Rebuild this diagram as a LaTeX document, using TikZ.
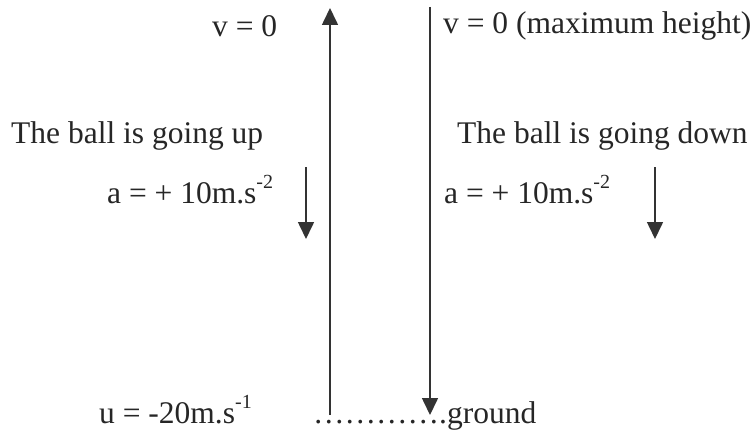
\documentclass[tikz,border=0pt]{standalone}
\usepackage{fontspec}
\setmainfont{Liberation Serif}
\usetikzlibrary{arrows.meta, positioning}
\newcommand{\unitexp}[1]{\raisebox{15pt}{\fontsize{20}{24}\selectfont #1}}

\begin{document}
\begin{tikzpicture}[
    x=1pt, y=1pt,
    label/.style={anchor=base west, inner sep=0pt, text=black!85, font=\fontsize{31.5}{36}\selectfont},
    motion/.style={-{Triangle[width=16pt, length=17pt]}, line width=1.6pt, draw=black!80}
]
    \useasboundingbox (0,0) rectangle (751,432);

    % Velocity lines
    \coordinate (upbot) at (330,17);
    \coordinate (uptop) at (330,424);
    \coordinate (downtop) at (430,425);
    \coordinate (downbot) at (430,17);
    \draw[motion] (upbot) -- (uptop);
    \draw[motion] (downtop) -- (downbot);

    % Acceleration arrows
    \coordinate (accltop) at (306,265);
    \coordinate (acclbot) at (306,193);
    \coordinate (accrtop) at (655,265);
    \coordinate (accrbot) at (655,193);
    \draw[motion] (accltop) -- (acclbot);
    \draw[motion] (accrtop) -- (accrbot);

    % Labels
    \node[label] (vtopl) at (212,395) {v = 0};
    \node[label] (vtopr) at (443,398) {v = 0 (maximum height)};
    \node[label] (goup) at (11,289) {The ball is going up};
    \node[label] (godown) at (457,289) {The ball is going down};
    \node[label] (accl) at (107,229) {a = + 10m.s\unitexp{-2}};
    \node[label] (accr) at (444,229) {a = + 10m.s\unitexp{-2}};
    \node[label] (uinit) at (99,9) {u = -20m.s\unitexp{-1}};
    \node[label] (ground) at (313,9) {………….ground};
\end{tikzpicture}
\end{document}
